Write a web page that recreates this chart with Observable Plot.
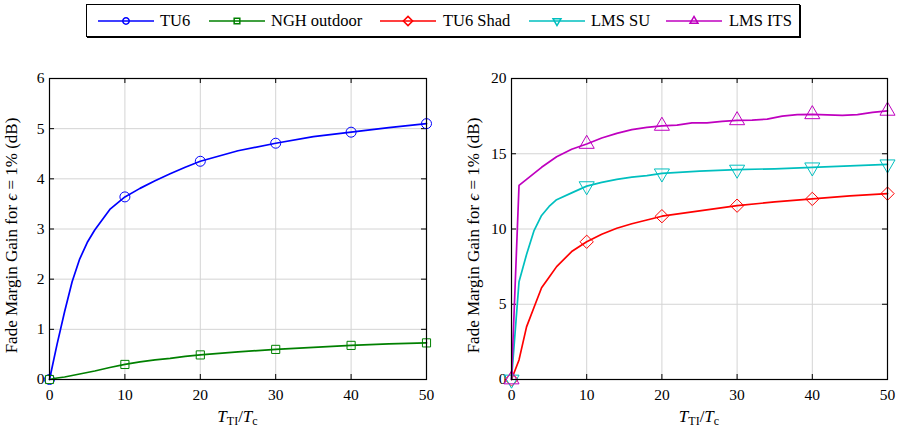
<!DOCTYPE html>
<html>
<head>
<meta charset="utf-8">
<script src="https://cdn.jsdelivr.net/npm/d3@7"></script>
<script src="https://cdn.jsdelivr.net/npm/@observablehq/plot@0.6"></script>
<style>
  body { margin: 0; background: #fff; }
  #wrap { position: relative; width: 898px; height: 431px; font-family: "Liberation Serif", "DejaVu Serif", serif; }
  #legend { position: absolute; left: 86px; top: 4px; width: 714px; height: 33px; border: 1px solid #000; box-sizing: border-box; background: #fff; box-shadow: 1px 1px 0 #000; }
  .chart { position: absolute; top: 45px; }
  .chart svg { overflow: visible; }
</style>
</head>
<body>
<div id="wrap">
  <div id="legend"></div>
  <div id="left" class="chart" style="left:0px"></div>
  <div id="right" class="chart" style="left:449px"></div>
</div>
<script>
// ---------- data ----------
const seriesNames = ["TU6", "NGH outdoor", "TU6 Shad", "LMS SU", "LMS ITS"];
const seriesColors = ["#0000ff", "#008000", "#ff0000", "#00bfbf", "#bf00bf"];

const xLeft = [0, 1, 2, 3, 4, 5, 6, 8, 10, 12, 14, 16, 18, 20, 25, 30, 35, 40, 45, 50];
const tu6 = [0, 0.70, 1.35, 1.95, 2.40, 2.73, 2.98, 3.39, 3.64, 3.81, 3.96, 4.10, 4.23, 4.35, 4.56, 4.71, 4.84, 4.93, 5.02, 5.10];
const ngh = [0, 0.03, 0.05, 0.08, 0.11, 0.14, 0.17, 0.24, 0.30, 0.35, 0.39, 0.42, 0.46, 0.49, 0.55, 0.60, 0.64, 0.68, 0.71, 0.73];

const xRight = [0, 1, 2, 3, 4, 5, 6, 8, 10, 12, 14, 16, 18, 20, 25, 30, 35, 40, 45, 50];
const tu6Shad = [0, 1.3, 3.5, 4.8, 6.1, 6.8, 7.5, 8.5, 9.15, 9.65, 10.05, 10.35, 10.6, 10.85, 11.2, 11.55, 11.8, 12.0, 12.2, 12.35];
const lmsSU = [0, 6.5, 8.3, 9.9, 10.9, 11.5, 11.95, 12.4, 12.85, 13.1, 13.3, 13.45, 13.55, 13.7, 13.85, 13.95, 14.0, 14.1, 14.2, 14.3];

const xIts = [0, 1, 2, 3, 4, 5, 6, 7, 8, 10, 12, 14, 16, 18, 20, 22, 24, 26, 28, 30, 32, 34, 36, 38, 40, 42, 44, 46, 48, 50];
const lmsIts = [0, 12.9, 13.3, 13.7, 14.1, 14.45, 14.8, 15.05, 15.3, 15.65, 16.05, 16.35, 16.6, 16.75, 16.85, 16.9, 17.05, 17.05, 17.15, 17.22, 17.24, 17.3, 17.5, 17.6, 17.62, 17.58, 17.55, 17.6, 17.75, 17.85];

const xTicks = [0, 10, 20, 30, 40, 50];
const yTicksLeft = [0, 1, 2, 3, 4, 5, 6];
const yTicksRight = [0, 5, 10, 15, 20];

// ---------- helpers ----------
function rows(xs, ys, name) { return xs.map((x, i) => ({x, y: ys[i], name})); }
const symbols = {
  "TU6": {symbol: "circle", rotate: 0, r: 5},
  "NGH outdoor": {symbol: "square", rotate: 0, r: 4.6},
  "TU6 Shad": {symbol: "diamond2", rotate: 0, r: 6},
  "LMS SU": {symbol: "triangle", rotate: 180, r: 5.6},
  "LMS ITS": {symbol: "triangle", rotate: 0, r: 5.6}
};
const colorOf = Object.fromEntries(seriesNames.map((n, i) => [n, seriesColors[i]]));

const W = 449, H = 386;
function panel(el, series, yDomain, yTicks, margins) {
  const {ml, mr, mt, mb} = margins;
  const ph = H - mt - mb, pw = W - ml - mr;
  const marks = [
    Plot.gridX(xTicks, {stroke: "#d4d4d4", strokeOpacity: 1, strokeWidth: 1}),
    Plot.gridY(yTicks, {stroke: "#d4d4d4", strokeOpacity: 1, strokeWidth: 1}),
    // inward ticks (bottom, top, left, right)
    Plot.ruleX(xTicks, {stroke: "#000", insetTop: ph - 5}),
    Plot.ruleX(xTicks, {stroke: "#000", insetBottom: ph - 5}),
    Plot.ruleY(yTicks, {stroke: "#000", insetRight: pw - 5}),
    Plot.ruleY(yTicks, {stroke: "#000", insetLeft: pw - 5}),
    Plot.axisX(xTicks, {tickSize: 0, tickPadding: 9, fontSize: 15.5, label: null, tickFormat: d => String(d)}),
    Plot.axisY(yTicks, {tickSize: 0, tickPadding: 5, fontSize: 15.5, label: null, tickFormat: d => String(d)})
  ];
  for (const s of series) {
    const c = colorOf[s.name];
    const sym = symbols[s.name];
    marks.push(Plot.line(s.data, {x: "x", y: "y", stroke: c, strokeWidth: 1.7}));
    marks.push(Plot.dot(s.data.filter(d => d.x % 10 === 0), {x: "x", y: "y", stroke: c, fill: "none", strokeWidth: 1, symbol: () => sym.symbol, rotate: sym.rotate, r: sym.r}));
  }
  marks.push(Plot.frame({stroke: "#000", strokeWidth: 1.2}));
  const chart = Plot.plot({
    width: W, height: H,
    marginLeft: ml, marginRight: mr, marginTop: mt, marginBottom: mb,
    x: {domain: [0, 50]},
    y: {domain: yDomain},
    style: {fontFamily: "'Liberation Serif', 'DejaVu Serif', serif", fontSize: "15px", color: "#000", background: "#fff", overflow: "visible"},
    marks
  });
  el.appendChild(chart);
  const svg = d3.select(chart);
  // x label: T_TI / T_c
  const xt = svg.append("text")
    .attr("x", ml + pw / 2).attr("y", 377)
    .attr("text-anchor", "middle")
    .attr("font-size", 17)
    .attr("fill", "#000");
  xt.append("tspan").attr("font-style", "italic").text("T");
  xt.append("tspan").attr("font-size", 12).attr("dy", 3).text("TI");
  xt.append("tspan").attr("dy", -3).text("/");
  xt.append("tspan").attr("font-style", "italic").text("T");
  xt.append("tspan").attr("font-size", 12).attr("dy", 3).text("c");
  // y label
  const yl = svg.append("text")
    .attr("transform", `translate(${ml - 32},${mt + ph / 2 + 7}) rotate(-90)`)
    .attr("text-anchor", "middle")
    .attr("font-size", 17)
    .attr("fill", "#000");
  yl.append("tspan").text("Fade Margin Gain for ");
  yl.append("tspan").attr("font-style", "italic").text("\u03F5");
  yl.append("tspan").text(" = 1% (dB)");
}

panel(document.getElementById("left"), [
  {name: "TU6", data: rows(xLeft, tu6, "TU6")},
  {name: "NGH outdoor", data: rows(xLeft, ngh, "NGH outdoor")}
], [0, 6], yTicksLeft, {ml: 49, mr: 23, mt: 33, mb: 52});

panel(document.getElementById("right"), [
  {name: "TU6 Shad", data: rows(xRight, tu6Shad, "TU6 Shad")},
  {name: "LMS SU", data: rows(xRight, lmsSU, "LMS SU")},
  {name: "LMS ITS", data: rows(xIts, lmsIts, "LMS ITS")}
], [0, 20], yTicksRight, {ml: 62, mr: 11, mt: 33, mb: 52});

// ---------- legend ----------
const legendPos = [
  {line: 11, text: 73},
  {line: 122, text: 184},
  {line: 293, text: 356},
  {line: 442, text: 504},
  {line: 579, text: 642}
];
const lg = d3.select("#legend").append("svg").attr("width", 712).attr("height", 31)
  .style("position", "absolute").style("left", "0px").style("top", "0px");
const legendSym = {
  "TU6": d3.symbolCircle, "NGH outdoor": d3.symbolSquare, "TU6 Shad": d3.symbolDiamond2,
  "LMS SU": d3.symbolTriangle2, "LMS ITS": d3.symbolTriangle2
};
seriesNames.forEach((n, i) => {
  const p = legendPos[i];
  const g = lg.append("g");
  g.append("line").attr("x1", p.line).attr("x2", p.line + 56).attr("y1", 16).attr("y2", 16)
    .attr("stroke", seriesColors[i]).attr("stroke-width", 1.7);
  const size = n === "TU6 Shad" ? 55 : (n.startsWith("LMS") ? 45 : 32);
  g.append("path").attr("d", d3.symbol(legendSym[n], size)())
    .attr("transform", `translate(${p.line + 28},16) rotate(${n === "LMS SU" ? 180 : 0})`)
    .attr("fill", "none").attr("stroke", seriesColors[i]).attr("stroke-width", 1.5);
  g.append("text").attr("x", p.text).attr("y", 21).attr("font-size", 16.5)
    .attr("font-family", "'Liberation Serif', 'DejaVu Serif', serif").attr("fill", "#000").text(n);
});
</script>
</body>
</html>
